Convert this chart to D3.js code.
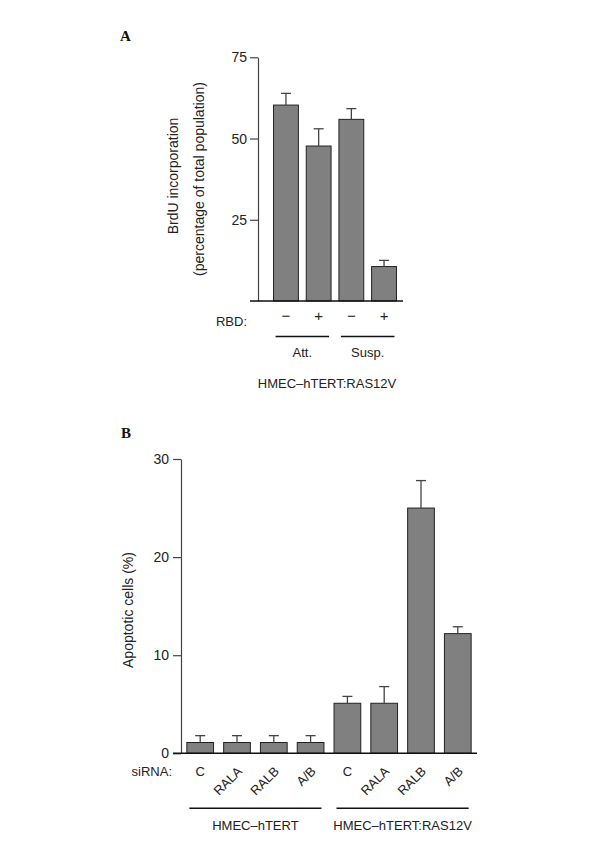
<!DOCTYPE html>
<html>
<head>
<meta charset="utf-8">
<script src="https://cdn.jsdelivr.net/npm/d3@7"></script>
<style>
body { margin: 0; background: #fff; }
svg text { font-family: "Liberation Sans", Arial, sans-serif; font-size: 13px; fill: #222; }
svg text.ytitle { font-size: 14px; }
svg text.panel { font-family: "Liberation Serif", serif; font-weight: bold; font-size: 15px; fill: #111; }
</style>
</head>
<body>
<svg id="chart" width="600" height="854"></svg>
<script>
// panel A data
var rbdA = ["\u2212", "+", "\u2212", "+"];
var valuesA = [60.3, 47.7, 55.9, 10.6];
var errorsA = [3.6, 5.3, 3.3, 1.9];
var groupsA = ["Att.", "Susp."];
var ticksA = [25, 50, 75];

// panel B data
var sirnaB = ["C", "RALA", "RALB", "A/B", "C", "RALA", "RALB", "A/B"];
var valuesB = [1.1, 1.1, 1.1, 1.1, 5.1, 5.1, 25.0, 12.2];
var errorsB = [0.7, 0.7, 0.7, 0.7, 0.7, 1.7, 2.8, 0.7];
var groupsB = ["HMEC\u2013hTERT", "HMEC\u2013hTERT:RAS12V"];
var ticksB = [0, 10, 20, 30];

var svg = d3.select("#chart");

function drawBars(g, x, y, values, errors) {
	var bw = x.bandwidth();
	g.selectAll("rect.bar")
		.data(values)
		.enter().append("rect")
		.attr("class", "bar")
		.attr("x", function(d, i) { return x(i); })
		.attr("y", function(d) { return y(d); })
		.attr("width", bw)
		.attr("height", function(d) { return y(0) - y(d); })
		.attr("fill", "#808080")
		.attr("stroke", "#222")
		.attr("stroke-width", 1);

	// error bars (upper only)
	values.forEach(function(d, i) {
		var cx = x(i) + bw / 2;
		g.append("line")
			.attr("x1", cx).attr("x2", cx)
			.attr("y1", y(d)).attr("y2", y(d + errors[i]))
			.attr("stroke", "#444").attr("stroke-width", 1.3);
		g.append("line")
			.attr("x1", cx - 5).attr("x2", cx + 5)
			.attr("y1", y(d + errors[i])).attr("y2", y(d + errors[i]))
			.attr("stroke", "#444").attr("stroke-width", 1.3);
	});
}

function styleAxis(ax) {
	ax.select(".domain").attr("stroke", "#444").attr("stroke-width", 1.2);
	ax.selectAll(".tick line").attr("stroke", "#444").attr("stroke-width", 1.2);
	ax.selectAll(".tick text").attr("fill", "#222").style("font-size", "14px")
		.style("font-family", "\"Liberation Sans\", Arial, sans-serif");
}

/*
	Panel A
*/
var gA = svg.append("g");
var yA = d3.scaleLinear().domain([0, 75]).range([301, 57.3]);
var xA = d3.scaleBand().domain(d3.range(valuesA.length)).range([267, 403])
	.paddingInner(0.24).paddingOuter(0.2);

var axA = gA.append("g")
	.attr("transform", "translate(258,0)")
	.call(d3.axisLeft(yA).tickValues(ticksA).tickSize(8).tickSizeOuter(0).tickPadding(3));
styleAxis(axA);

drawBars(gA, xA, yA, valuesA, errorsA);

gA.append("line")
	.attr("x1", 250).attr("x2", 403)
	.attr("y1", yA(0)).attr("y2", yA(0))
	.attr("stroke", "#111").attr("stroke-width", 1.6);

gA.append("text").attr("class", "panel").attr("x", 120).attr("y", 41).text("A");

gA.append("text")
	.attr("class", "ytitle")
	.attr("transform", "translate(178,176) rotate(-90)")
	.attr("text-anchor", "middle")
	.text("BrdU incorporation");
gA.append("text")
	.attr("class", "ytitle")
	.attr("transform", "translate(204,179) rotate(-90)")
	.attr("text-anchor", "middle")
	.text("(percentage of total population)");

gA.append("text").attr("x", 247).attr("y", 326).attr("text-anchor", "end").text("RBD:");
gA.selectAll("text.rbd")
	.data(rbdA)
	.enter().append("text")
	.attr("class", "rbd")
	.attr("x", function(d, i) { return xA(i) + xA.bandwidth() / 2; })
	.attr("y", 321)
	.attr("text-anchor", "middle")
	.style("font-size", "15px")
	.text(function(d) { return d; });

groupsA.forEach(function(name, k) {
	var x1 = xA(k * 2) + 2, x2 = xA(k * 2 + 1) + xA.bandwidth() - 2;
	gA.append("line")
		.attr("x1", x1).attr("x2", x2).attr("y1", 336.5).attr("y2", 336.5)
		.attr("stroke", "#111").attr("stroke-width", 1.5);
	gA.append("text")
		.attr("x", (x1 + x2) / 2).attr("y", 356.5)
		.attr("text-anchor", "middle")
		.text(name);
});
gA.append("text").attr("x", 327).attr("y", 388).attr("text-anchor", "middle").text("HMEC\u2013hTERT:RAS12V");

/*
	Panel B
*/
var gB = svg.append("g");
var yB = d3.scaleLinear().domain([0, 30]).range([753.3, 459]);
var xB = d3.scaleBand().domain(d3.range(valuesB.length)).range([181, 477])
	.paddingInner(0.274).paddingOuter(0.159);

var axB = gB.append("g")
	.attr("transform", "translate(181,0)")
	.call(d3.axisLeft(yB).tickValues(ticksB).tickSize(8).tickSizeOuter(0).tickPadding(4));
styleAxis(axB);

drawBars(gB, xB, yB, valuesB, errorsB);

gB.append("line")
	.attr("x1", 173).attr("x2", 477)
	.attr("y1", yB(0)).attr("y2", yB(0))
	.attr("stroke", "#111").attr("stroke-width", 1.6);

gB.append("text").attr("class", "panel").attr("x", 121).attr("y", 438).text("B");

gB.append("text")
	.attr("class", "ytitle")
	.attr("transform", "translate(133,610) rotate(-90)")
	.attr("text-anchor", "middle")
	.text("Apoptotic cells (%)");

gB.append("text").attr("x", 172).attr("y", 776).attr("text-anchor", "end").text("siRNA:");
sirnaB.forEach(function(d, i) {
	var cx = xB(i) + xB.bandwidth() / 2;
	if (d == "C") {
		gB.append("text").attr("x", cx).attr("y", 776).attr("text-anchor", "middle").text(d);
	} else {
		gB.append("text")
			.attr("transform", "translate(" + (cx + 6) + ",772) rotate(-45)")
			.attr("text-anchor", "end")
			.text(d);
	}
});

groupsB.forEach(function(name, k) {
	var x1 = xB(k * 4) + 2.5, x2 = xB(k * 4 + 3) + xB.bandwidth() - 2.5;
	gB.append("line")
		.attr("x1", x1).attr("x2", x2).attr("y1", 808.3).attr("y2", 808.3)
		.attr("stroke", "#111").attr("stroke-width", 1.5);
	gB.append("text")
		.attr("x", (x1 + x2) / 2).attr("y", 830)
		.attr("text-anchor", "middle")
		.text(name);
});
</script>
</body>
</html>
